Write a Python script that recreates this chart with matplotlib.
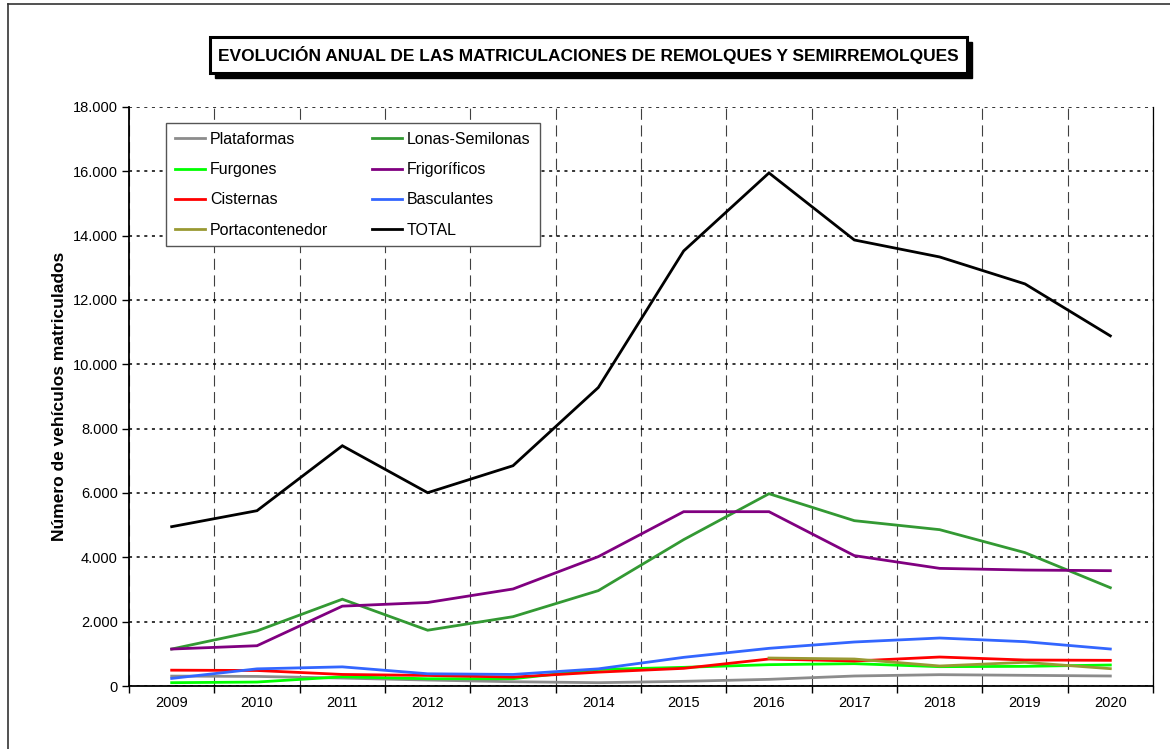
import numpy as np
import matplotlib
matplotlib.use("Agg")
import matplotlib.pyplot as plt
from matplotlib.patches import Rectangle
from matplotlib.lines import Line2D
from matplotlib.ticker import FuncFormatter, FixedLocator

plt.rcParams['font.family'] = ['Liberation Sans', 'DejaVu Sans']

# ================= DATA =================
years = ["2009", "2010", "2011", "2012", "2013", "2014",
         "2015", "2016", "2017", "2018", "2019", "2020"]

plataformas = [308, 298, 246, 185, 133, 103, 145, 207, 311, 352, 332, 311]
lonas = [1149, 1713, 2698, 1734, 2155, 2965, 4550, 5978, 5140, 4860, 4146, 3056]
furgones = [103, 123, 287, 226, 226, 513, 580, 663, 694, 601, 611, 653]
frigorificos = [1149, 1252, 2483, 2596, 3016, 4022, 5419, 5419, 4053, 3657, 3605, 3585]
cisternas = [492, 482, 359, 328, 277, 431, 549, 839, 777, 901, 808, 798]
basculantes = [236, 533, 595, 380, 359, 533, 891, 1171, 1368, 1492, 1378, 1150]
portacontenedor = [np.nan] * 7 + [870, 839, 622, 736, 539]
total = [4953, 5450, 7469, 6009, 6848, 9280, 13525, 15950, 13866, 13338, 12500, 10885]

series = [
    ("Plataformas", plataformas, "#8c8c8c"),
    ("Lonas-Semilonas", lonas, "#339933"),
    ("Furgones", furgones, "#00ff00"),
    ("Frigoríficos", frigorificos, "#800080"),
    ("Cisternas", cisternas, "#ff0000"),
    ("Basculantes", basculantes, "#3366ff"),
    ("Portacontenedor", portacontenedor, "#999933"),
    ("TOTAL", total, "#000000"),
]

title = "EVOLUCIÓN ANUAL DE LAS MATRICULACIONES DE REMOLQUES Y SEMIRREMOLQUES"
ylabel = "Número de vehículos matriculados"

# ================= FIGURE =================
W, H = 1170, 749
fig = plt.figure(figsize=(W / 100, H / 100), dpi=100)

def fx(px):
    return px / W

def fy(py):
    return 1 - py / H

ax = fig.add_axes([fx(129), fy(686), fx(1153) - fx(129), fy(107) - fy(686)])

x = np.arange(len(years))
lines = {}
for name, vals, col in series:
    ln, = ax.plot(x, vals, color=col, lw=2.0, label=name, solid_joinstyle='miter')
    lines[name] = ln

ax.set_xlim(-0.5, len(years) - 0.5)
ax.set_ylim(0, 18000)

# x: ticks at category boundaries, labels at centres
ax.xaxis.set_major_locator(FixedLocator(np.arange(-0.5, len(years), 1.0)))
ax.xaxis.set_minor_locator(FixedLocator(x))
ax.set_xticklabels([])
ax.set_xticklabels(years, minor=True)
ax.tick_params(axis='x', which='major', direction='out', length=5, width=1)
ax.tick_params(axis='x', which='minor', length=0, pad=7, labelsize=10.5)

ax.set_yticks(np.arange(0, 18001, 2000))
ax.yaxis.set_major_formatter(FuncFormatter(lambda v, p: f"{int(v):,}".replace(",", ".")))
ax.tick_params(axis='y', direction='out', length=5, width=1, labelsize=10.5, pad=3)

ax.grid(axis='y', color='black', linestyle=(0, (2, 3)), lw=1.1)
ax.grid(axis='x', which='major', color='#404040', linestyle=(0, (10, 5)), lw=0.8)
ax.set_axisbelow(True)

ax.spines['top'].set_visible(False)
ax.spines['left'].set_linewidth(1.3)
ax.spines['bottom'].set_linewidth(1.3)
ax.spines['right'].set_linewidth(0.9)

ax.set_ylabel(ylabel, fontsize=12.5, fontweight='bold', labelpad=4)

# legend, filled column-wise
order = ["Plataformas", "Furgones", "Cisternas", "Portacontenedor",
         "Lonas-Semilonas", "Frigoríficos", "Basculantes", "TOTAL"]
leg = ax.legend([lines[n] for n in order], order, ncol=2, loc='upper left',
                bbox_to_anchor=(0.036, 0.972), borderaxespad=0, fontsize=11.5,
                fancybox=False, framealpha=1, edgecolor='#555555',
                labelspacing=0.95, handlelength=1.9, handletextpad=0.3,
                columnspacing=2.75, borderpad=0.55)
leg.get_frame().set_linewidth(1.0)

# title box with shadow
bx0, bx1, by0, by1 = 210, 967, 37, 73
fig.patches.append(Rectangle((fx(bx0 + 5), fy(by1 + 5)), fx(bx1) - fx(bx0), fy(by0) - fy(by1),
                             transform=fig.transFigure, facecolor='black', edgecolor='black'))
fig.patches.append(Rectangle((fx(bx0), fy(by1)), fx(bx1) - fx(bx0), fy(by0) - fy(by1),
                             transform=fig.transFigure, facecolor='white', edgecolor='black', lw=2.2))
fig.text(fx((bx0 + bx1) / 2), fy((by0 + by1) / 2), title, ha='center', va='center',
         fontsize=12.5, fontweight='bold')

# outer frame (top and left visible)
fig.lines.append(Line2D([fx(8), fx(1170)], [fy(4), fy(4)], transform=fig.transFigure,
                        color='#333333', lw=1.2))
fig.lines.append(Line2D([fx(8), fx(8)], [fy(4), fy(749)], transform=fig.transFigure,
                        color='#333333', lw=1.2))

fig.savefig("out.png", dpi=100)
